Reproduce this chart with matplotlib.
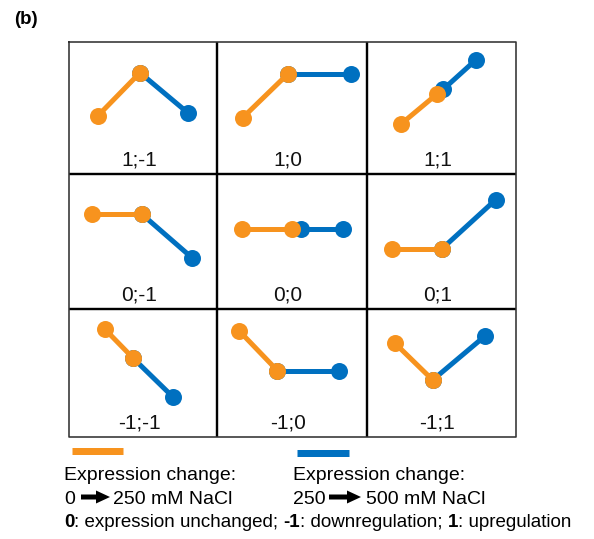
import matplotlib
matplotlib.use("Agg")
import matplotlib.pyplot as plt
from matplotlib import font_manager
from matplotlib.patches import FancyArrow

plt.rcParams["font.family"] = ["Liberation Sans", "DejaVu Sans"]

# Expression-change codes for each panel: first step (0 -> 250 mM), second step (250 -> 500 mM)
first_change = [1, 1, 1, 0, 0, 0, -1, -1, -1]
second_change = [-1, 0, 1, -1, 0, 1, -1, 0, 1]

# Node positions of each sketch, in the panel's own pixel units (origin top-left)
orange_x = [[28.7, 71.0], [25.7, 71.3], [33.7, 69.7],
            [23.3, 72.7], [24.7, 74.7], [24.7, 74.7],
            [36.0, 64.3], [22.3, 60.3], [28.0, 65.7]]
orange_y = [[74.0, 30.7], [75.7, 31.5], [82.3, 52.3],
            [40.0, 40.0], [55.0, 55.0], [75.0, 75.0],
            [20.3, 49.3], [22.0, 61.5], [34.3, 71.0]]
blue_x = [[71.0, 118.7], [71.3, 134.0], [76.3, 108.7],
          [72.7, 123.3], [83.7, 126.3], [74.7, 128.7],
          [64.3, 104.3], [60.3, 122.3], [65.7, 118.0]]
blue_y = [[30.7, 70.7], [31.5, 31.5], [47.3, 18.0],
          [40.0, 84.0], [55.0, 55.0], [75.0, 25.7],
          [49.3, 88.3], [61.5, 61.5], [71.0, 27.0]]

ORANGE = "#F7931E"
BLUE = "#0070C0"

W, H = 594, 539
DPI = 100
fig = plt.figure(figsize=(W / DPI, H / DPI), dpi=DPI)

# Overlay axes in figure pixel units for the frame and the key
ax = fig.add_axes([0, 0, 1, 1])
ax.set_xlim(0, W)
ax.set_ylim(H, 0)
ax.axis("off")

col_edges = [69, 217, 367, 516]
row_edges = [42, 174, 309, 437]

PX = 72 / DPI  # points per pixel

# grid lines
for x in col_edges[1:-1]:
    ax.plot([x, x], [row_edges[0], row_edges[-1]], color="black", lw=2.4 * PX,
            solid_capstyle="butt", zorder=2)
for y in row_edges[1:-1]:
    ax.plot([col_edges[0], col_edges[-1]], [y, y], color="black", lw=2.4 * PX,
            solid_capstyle="butt", zorder=2)
ax.plot([col_edges[0], col_edges[-1], col_edges[-1], col_edges[0], col_edges[0]],
        [row_edges[0], row_edges[0], row_edges[-1], row_edges[-1], row_edges[0]],
        color="#333333", lw=1.6 * PX, zorder=2)

ms = 17 * PX
lw = 5 * PX
for i in range(9):
    r, c = divmod(i, 3)
    x0, x1 = col_edges[c], col_edges[c + 1]
    y0, y1 = row_edges[r], row_edges[r + 1]
    w, h = x1 - x0, y1 - y0
    cax = fig.add_axes([x0 / W, 1 - y1 / H, w / W, h / H])
    cax.set_xlim(0, w)
    cax.set_ylim(h, 0)
    cax.axis("off")
    cax.patch.set_alpha(0)
    cax.plot(blue_x[i], blue_y[i], color=BLUE, lw=lw, marker="o", ms=ms,
             markeredgewidth=0, solid_capstyle="butt", clip_on=False, zorder=3)
    cax.plot(orange_x[i], orange_y[i], color=ORANGE, lw=lw, marker="o", ms=ms,
             markeredgewidth=0, solid_capstyle="butt", clip_on=False, zorder=4)
    cax.text(w / 2 - 4, h - 14, f"{first_change[i]};{second_change[i]}",
             ha="center", va="center", fontsize=15, color="#111111")

# panel tag
ax.text(14, 20, "(b)", fontsize=13.5, fontweight="bold", ha="left", va="center")

# key swatches
ax.plot([72, 123], [451, 451], color=ORANGE, lw=7 * PX, solid_capstyle="butt")
ax.plot([297, 349], [453, 453], color=BLUE, lw=7 * PX, solid_capstyle="butt")

fs = 14
ax.text(64, 480, "Expression change:", fontsize=fs, ha="left", va="baseline")
ax.text(293, 480, "Expression change:", fontsize=fs, ha="left", va="baseline")


def block_arrow(x, y, length):
    ax.add_patch(FancyArrow(x, y, length, 0, width=5, head_width=13,
                            head_length=14, length_includes_head=True,
                            color="black", lw=0))


ax.text(64, 504, "0", fontsize=fs, ha="left", va="baseline")
block_arrow(81, 497, 29)
ax.text(113, 504, "250 mM NaCl", fontsize=fs, ha="left", va="baseline")
ax.text(293, 504, "250", fontsize=fs, ha="left", va="baseline")
block_arrow(329, 497, 32)
ax.text(366, 504, "500 mM NaCl", fontsize=fs, ha="left", va="baseline")

# code explanation line: a narrow face if one is installed, bold codes
names = {f.name for f in font_manager.fontManager.ttflist}
cond = {(f.name, f.stretch) for f in font_manager.fontManager.ttflist}
if "Liberation Sans Narrow" in names:
    line_font = dict(family=["Liberation Sans Narrow", "DejaVu Sans"])
elif "Arial Narrow" in names:
    line_font = dict(family=["Arial Narrow", "DejaVu Sans"])
else:
    line_font = dict(family=["Liberation Sans", "DejaVu Sans"])

pieces = [("0", "bold"), (": expression unchanged;", "normal"),
          ("-1", "bold"), (": downregulation;", "normal"),
          ("1", "bold"), (": upregulation", "normal")]
gap_after = [False, True, False, True, False, False]
renderer = fig.canvas.get_renderer()


def build_line(size):
    made = []
    x = 64.0
    probe1 = ax.text(0, 0, "x x", fontsize=size, **line_font)
    probe2 = ax.text(0, 0, "xx", fontsize=size, **line_font)
    space = (probe1.get_window_extent(renderer).width
             - probe2.get_window_extent(renderer).width)
    probe1.remove()
    probe2.remove()
    for (s, wgt), gap in zip(pieces, gap_after):
        t = ax.text(x, 527, s, fontsize=size, fontweight=wgt,
                    ha="left", va="baseline", **line_font)
        made.append(t)
        x += t.get_window_extent(renderer).width
        if gap:
            x += space
    return made, x - 64.0


texts, total = build_line(15)
for t in texts:
    t.remove()
texts, total = build_line(15 * 511.0 / total)

fig.savefig("out.png", dpi=DPI)
